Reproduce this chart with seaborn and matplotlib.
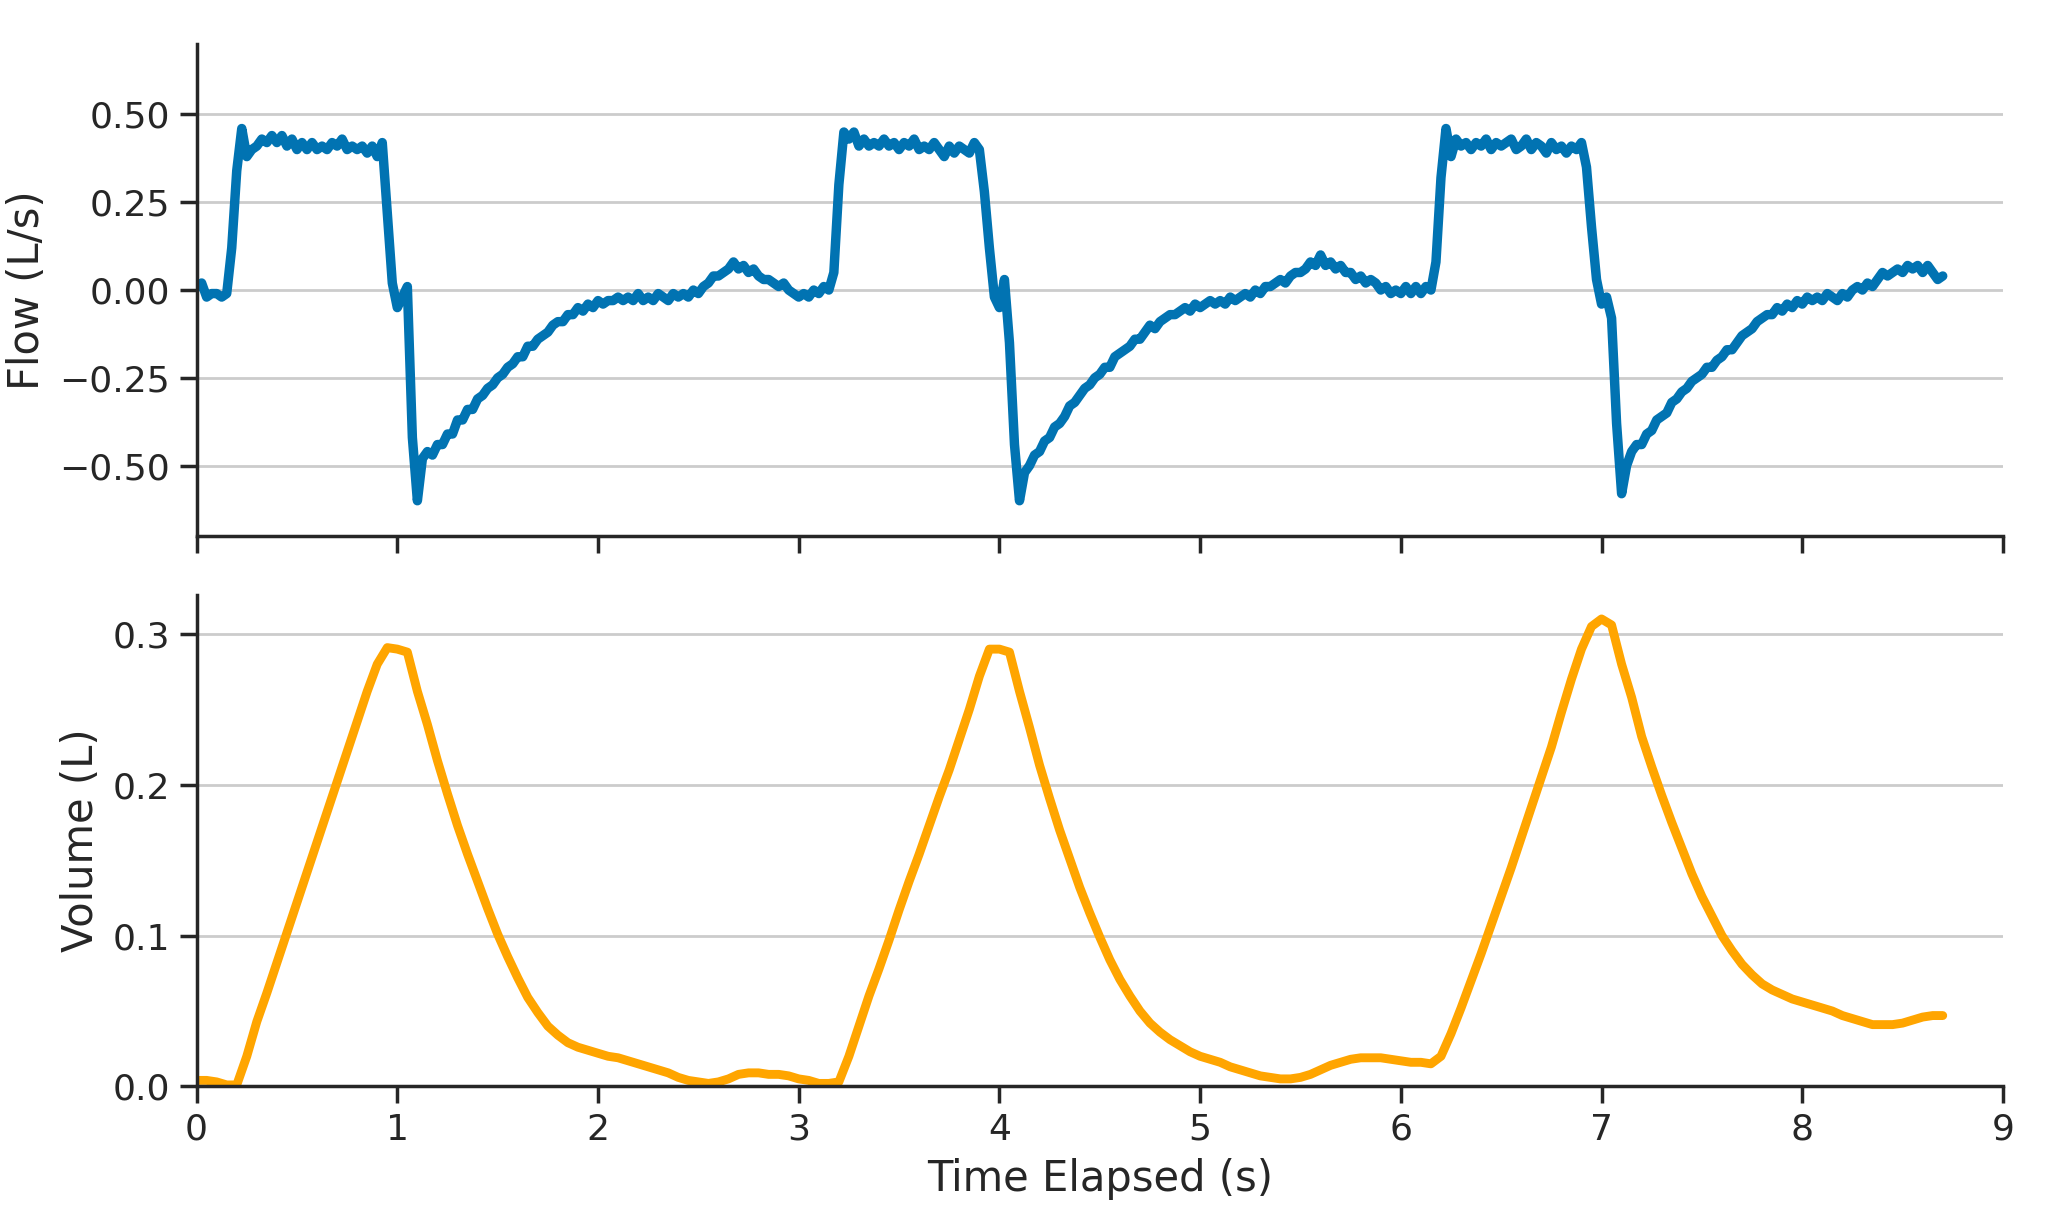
# =====================================================
# FLOW / VOLUME WAVEFORM PLOT
# =====================================================

import numpy as np
import pandas as pd
import matplotlib
matplotlib.use("Agg")
import matplotlib.pyplot as plt
import seaborn as sns

# =====================================================
# DATA
# =====================================================

flow_dt = 0.025  # seconds between flow samples

flow = [
    # 0.0 - 0.975 s
    0.01, 0.02, -0.02, -0.01, -0.01, -0.02, -0.01, 0.12, 0.34, 0.46,
    0.38, 0.40, 0.41, 0.43, 0.42, 0.44, 0.42, 0.44, 0.41, 0.43,
    0.40, 0.42, 0.40, 0.42, 0.40, 0.41, 0.40, 0.42, 0.41, 0.43,
    0.40, 0.41, 0.40, 0.41, 0.39, 0.41, 0.38, 0.42, 0.22, 0.02,
    # 1.0 - 1.975 s
    -0.05, -0.02, 0.01, -0.42, -0.60, -0.48, -0.46, -0.47, -0.44, -0.44,
    -0.41, -0.41, -0.37, -0.37, -0.34, -0.34, -0.31, -0.30, -0.28, -0.27,
    -0.25, -0.24, -0.22, -0.21, -0.19, -0.19, -0.16, -0.16, -0.14, -0.13,
    -0.12, -0.10, -0.09, -0.09, -0.07, -0.07, -0.05, -0.06, -0.04, -0.05,
    # 2.0 - 2.975 s
    -0.03, -0.04, -0.03, -0.03, -0.02, -0.03, -0.02, -0.03, -0.01, -0.03,
    -0.02, -0.03, -0.01, -0.02, -0.03, -0.01, -0.02, -0.01, -0.02, 0.00,
    -0.01, 0.01, 0.02, 0.04, 0.04, 0.05, 0.06, 0.08, 0.06, 0.07,
    0.05, 0.06, 0.04, 0.03, 0.03, 0.02, 0.01, 0.02, 0.00, -0.01,
    # 3.0 - 3.975 s
    -0.02, -0.01, -0.02, 0.00, -0.01, 0.01, 0.00, 0.05, 0.30, 0.45,
    0.43, 0.45, 0.41, 0.43, 0.41, 0.42, 0.41, 0.43, 0.41, 0.42,
    0.40, 0.42, 0.41, 0.43, 0.40, 0.41, 0.40, 0.42, 0.40, 0.38,
    0.41, 0.39, 0.41, 0.40, 0.39, 0.42, 0.40, 0.28, 0.12, -0.02,
    # 4.0 - 4.975 s
    -0.05, 0.03, -0.15, -0.44, -0.60, -0.52, -0.50, -0.47, -0.46, -0.43,
    -0.42, -0.39, -0.38, -0.36, -0.33, -0.32, -0.30, -0.28, -0.27, -0.25,
    -0.24, -0.22, -0.22, -0.19, -0.18, -0.17, -0.16, -0.14, -0.14, -0.12,
    -0.10, -0.11, -0.09, -0.08, -0.07, -0.07, -0.06, -0.05, -0.06, -0.04,
    # 5.0 - 5.975 s
    -0.05, -0.04, -0.03, -0.04, -0.03, -0.04, -0.02, -0.03, -0.02, -0.01,
    -0.02, 0.00, -0.01, 0.01, 0.01, 0.02, 0.03, 0.02, 0.04, 0.05,
    0.05, 0.06, 0.08, 0.07, 0.10, 0.07, 0.08, 0.06, 0.07, 0.05,
    0.05, 0.03, 0.04, 0.02, 0.03, 0.02, 0.00, 0.01, -0.01, 0.00,
    # 6.0 - 6.975 s
    -0.01, 0.01, -0.01, 0.01, -0.01, 0.01, 0.00, 0.08, 0.32, 0.46,
    0.38, 0.43, 0.41, 0.42, 0.40, 0.42, 0.41, 0.43, 0.40, 0.42,
    0.41, 0.42, 0.43, 0.40, 0.41, 0.43, 0.40, 0.42, 0.41, 0.39,
    0.42, 0.40, 0.41, 0.39, 0.41, 0.40, 0.42, 0.35, 0.18, 0.03,
    # 7.0 - 7.975 s
    -0.04, -0.02, -0.08, -0.38, -0.58, -0.50, -0.46, -0.44, -0.44, -0.41,
    -0.40, -0.37, -0.36, -0.35, -0.32, -0.31, -0.29, -0.28, -0.26, -0.25,
    -0.24, -0.22, -0.22, -0.20, -0.19, -0.17, -0.17, -0.15, -0.13, -0.12,
    -0.11, -0.09, -0.08, -0.07, -0.07, -0.05, -0.06, -0.04, -0.05, -0.03,
    # 8.0 - 8.7 s
    -0.04, -0.02, -0.03, -0.02, -0.03, -0.01, -0.02, -0.03, -0.01, -0.02,
    0.00, 0.01, 0.00, 0.02, 0.01, 0.03, 0.05, 0.04, 0.05, 0.06,
    0.05, 0.07, 0.06, 0.07, 0.05, 0.07, 0.05, 0.03, 0.04,
]

vol_dt = 0.05  # seconds between volume samples

volume = [
    # 0.0 - 0.95 s
    0.004, 0.004, 0.003, 0.001, 0.001, 0.020, 0.043, 0.062, 0.082, 0.102,
    0.122, 0.142, 0.162, 0.182, 0.202, 0.222, 0.242, 0.262, 0.280, 0.291,
    # 1.0 - 1.95 s
    0.290, 0.288, 0.262, 0.240, 0.216, 0.194, 0.173, 0.154, 0.136, 0.118,
    0.101, 0.086, 0.072, 0.059, 0.049, 0.040, 0.034, 0.029, 0.026, 0.024,
    # 2.0 - 2.95 s
    0.022, 0.020, 0.019, 0.017, 0.015, 0.013, 0.011, 0.009, 0.006, 0.004,
    0.003, 0.002, 0.003, 0.005, 0.008, 0.009, 0.009, 0.008, 0.008, 0.007,
    # 3.0 - 3.95 s
    0.005, 0.004, 0.002, 0.002, 0.003, 0.020, 0.040, 0.060, 0.078, 0.097,
    0.117, 0.136, 0.154, 0.173, 0.192, 0.210, 0.230, 0.250, 0.272, 0.290,
    # 4.0 - 4.95 s
    0.290, 0.288, 0.262, 0.238, 0.213, 0.191, 0.170, 0.151, 0.132, 0.115,
    0.099, 0.084, 0.071, 0.060, 0.050, 0.042, 0.036, 0.031, 0.027, 0.023,
    # 5.0 - 5.95 s
    0.020, 0.018, 0.016, 0.013, 0.011, 0.009, 0.007, 0.006, 0.005, 0.005,
    0.006, 0.008, 0.011, 0.014, 0.016, 0.018, 0.019, 0.019, 0.019, 0.018,
    # 6.0 - 6.95 s
    0.017, 0.016, 0.016, 0.015, 0.020, 0.035, 0.052, 0.070, 0.088, 0.107,
    0.126, 0.145, 0.165, 0.185, 0.205, 0.225, 0.248, 0.270, 0.290, 0.305,
    # 7.0 - 7.95 s
    0.310, 0.306, 0.280, 0.258, 0.232, 0.212, 0.193, 0.175, 0.158, 0.141,
    0.126, 0.113, 0.100, 0.090, 0.081, 0.074, 0.068, 0.064, 0.061, 0.058,
    # 8.0 - 8.7 s
    0.056, 0.054, 0.052, 0.050, 0.047, 0.045, 0.043, 0.041, 0.041, 0.041,
    0.042, 0.044, 0.046, 0.047, 0.047,
]

flow_df = pd.DataFrame({"Time": np.arange(len(flow)) * flow_dt, "Flow": flow})
vol_df = pd.DataFrame({"Time": np.arange(len(volume)) * vol_dt, "Volume": volume})

# =====================================================
# STYLE
# =====================================================

sns.set_theme(style="ticks", context="notebook", font_scale=1.25)
plt.rcParams["font.family"] = ["DejaVu Sans"]
plt.rcParams["xtick.labelsize"] = 13
plt.rcParams["ytick.labelsize"] = 13
plt.rcParams["axes.labelsize"] = 15

fig, (ax_flow, ax_vol) = plt.subplots(2, 1, figsize=(10.24, 6.145), dpi=200, sharex=True)
fig.subplots_adjust(left=0.096, right=0.978, top=0.964, bottom=0.116, hspace=0.12)

# =====================================================
# FLOW
# =====================================================

sns.lineplot(data=flow_df, x="Time", y="Flow", ax=ax_flow, color="#0173b2", linewidth=3.4)
ax_flow.set_ylim(-0.70, 0.70)
ax_flow.set_yticks([-0.5, -0.25, 0.0, 0.25, 0.5])
ax_flow.set_ylabel("Flow (L/s)")
ax_flow.set_xlabel("")
ax_flow.yaxis.grid(True, color="#cccccc", linewidth=1)

# =====================================================
# VOLUME
# =====================================================

sns.lineplot(data=vol_df, x="Time", y="Volume", ax=ax_vol, color="orange", linewidth=3.2)
ax_vol.set_ylim(0, 0.326)
ax_vol.set_yticks([0.0, 0.1, 0.2, 0.3])
ax_vol.set_ylabel("Volume (L)")
ax_vol.set_xlabel("Time Elapsed (s)")
ax_vol.yaxis.grid(True, color="#cccccc", linewidth=1)

ax_vol.set_xlim(0, 9)
ax_vol.set_xticks(range(10))

sns.despine(fig=fig)

plt.savefig("out.png", dpi=200)
